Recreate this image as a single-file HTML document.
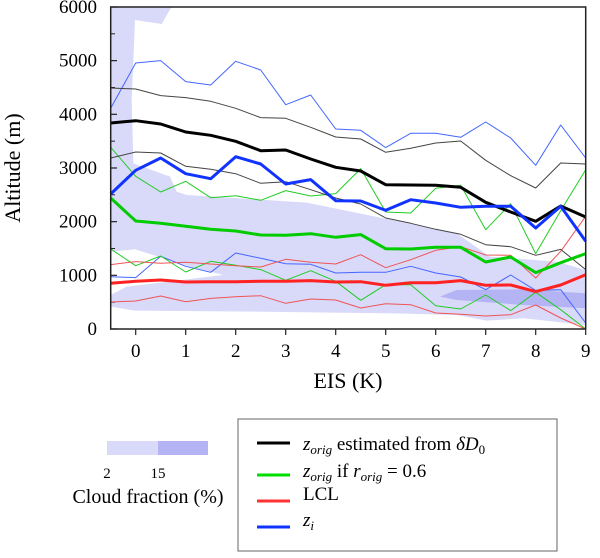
<!DOCTYPE html>
<html><head><meta charset="utf-8"><style>
body{margin:0;background:#fff;}
svg{display:block;}
svg text{font-family:"Liberation Serif","DejaVu Serif",serif;}
</style></head><body>
<svg id="c" width="600" height="558" viewBox="0 0 600 558" font-family="Liberation Serif, serif">
<g id="cloud" transform="translate(90,0) scale(0.3333)">
<polygon fill="#d9d9fa" points="62,20 245,20 215,72 135,60 125,300 130,490 240,530 260,575 290,585 650,608 1100,700 1200,770 1400,785 1487,810 1487,975 1300,955 1190,962 1100,945 900,940 500,935 135,932 62,920 62,885 110,860 400,825 300,800 135,748 62,755"/>
<polygon fill="#b4b4f5" points="1050,890 1100,870 1300,868 1487,880 1487,925 1300,915 1100,900"/>
</g>
<g id="axes"></g>
<g id="series"></g>
<rect x="110.7" y="7" width="475" height="322" fill="none" stroke="#222" stroke-width="1.5"/>
<text x="20" y="168" font-size="22" text-anchor="middle" transform="rotate(-90 20 168)">Altitude (m)</text>
<text x="348" y="388" font-size="22" text-anchor="middle">EIS (K)</text>
<g>
<rect x="107" y="441" width="51" height="14" fill="#d9d9fa"/>
<rect x="158" y="441" width="50" height="14" fill="#b4b4f5"/>
<text x="107" y="478" font-size="15" text-anchor="middle">2</text>
<text x="158" y="478" font-size="15" text-anchor="middle">15</text>
<text x="148" y="503" font-size="20" text-anchor="middle">Cloud fraction (%)</text>
</g>
<g>
<rect x="238" y="419" width="319" height="132" fill="#fff" stroke="#666" stroke-width="1"/>
<g><line x1="257" y1="443" x2="290" y2="443" stroke="#000" stroke-width="3"/><text x="303" y="450" font-size="19"><tspan font-style="italic">z</tspan><tspan font-size="13" font-style="italic" dy="4">orig</tspan><tspan dy="-4"> estimated from </tspan><tspan font-style="italic">δD</tspan><tspan font-size="13" dy="4">0</tspan></text></g>
<g><line x1="257" y1="475" x2="290" y2="475" stroke="#00dd00" stroke-width="3"/><text x="303" y="477" font-size="19"><tspan font-style="italic">z</tspan><tspan font-size="13" font-style="italic" dy="4">orig</tspan><tspan dy="-4"> if </tspan><tspan font-style="italic">r</tspan><tspan font-size="13" font-style="italic" dy="4">orig</tspan><tspan dy="-4"> = 0.6</tspan></text></g>
<g><line x1="257" y1="501" x2="290" y2="501" stroke="#ff3333" stroke-width="3"/><text x="303" y="500" font-size="19">LCL</text></g>
<g><line x1="257" y1="527" x2="290" y2="527" stroke="#1133ff" stroke-width="3"/><text x="303" y="526" font-size="19" font-style="italic">z<tspan font-size="13" dy="4">i</tspan></text></g>
</g>
</svg>
<script>
const eis=[-0.5,0,0.5,1,1.5,2,2.5,3,3.5,4,4.5,5,5.5,6,6.5,7,7.5,8,8.5,9];
const blackMid=[3838,3882,3820,3671,3609,3497,3323,3335,3168,3012,2944,2689,2683,2677,2640,2360,2180,2006,2292,2087];
const blackHi=[4491,4472,4348,4311,4242,4112,3938,3925,3758,3578,3540,3292,3366,3466,3503,3143,2857,2627,3093,3075];
const blackLo=[3186,3298,3280,3031,2975,2894,2714,2745,2596,2441,2329,2068,1969,1857,1764,1571,1534,1373,1484,1106];
const blueMid=[2516,2957,3186,2894,2801,3211,3075,2702,2783,2391,2385,2211,2410,2348,2267,2286,2286,1882,2286,1634];
const blueHi=[4112,4957,5000,4609,4547,4988,4826,4180,4360,3727,3702,3379,3646,3646,3571,3857,3559,3050,3801,3186];
const blueLo=[975,957,1354,1168,1056,1416,1317,1217,1205,1043,1056,1056,1168,1043,969,733,1006,720,733,112];
const greenMid=[2441,2012,1969,1913,1857,1826,1752,1745,1776,1708,1758,1497,1491,1522,1522,1248,1342,1050,1236,1404];
const greenHi=[3385,2845,2553,2752,2447,2484,2398,2578,2478,2522,2988,2180,2161,2621,2677,1851,2335,1404,2205,2969];
const greenLo=[1491,1180,1360,1062,1261,1186,1106,907,1087,888,534,826,826,435,373,634,342,683,360,0];
const redMid=[851,888,913,876,882,882,888,888,901,876,882,814,863,863,901,814,820,696,820,1012];
const redHi=[1199,1255,1224,1242,1211,1180,1155,1298,1242,1211,1385,1143,1292,1466,1534,1379,1373,950,1447,2099];
const redLo=[503,522,615,509,571,602,621,478,559,540,391,472,453,298,273,242,267,447,205,0];
const xTicks=[0,1,2,3,4,5,6,7,8,9];
const yTicks=[0,1000,2000,3000,4000,5000,6000];
const yMinor=[500,1500,2500,3500,4500,5500];
const X=v=>135.7+(v)*50;
const Y=v=>329-v*0.05367;
const NS='http://www.w3.org/2000/svg';
const ax=document.getElementById('axes'), sg=document.getElementById('series');
function mk(t,a,p){const e=document.createElementNS(NS,t);for(const k in a)e.setAttribute(k,a[k]);p.appendChild(e);return e;}
xTicks.forEach(v=>{
 const l=mk('line',{x1:X(v),x2:X(v),y1:329,y2:335,stroke:'#222','stroke-width':1.2},ax);
 
 
 const t=mk('text',{x:X(v),y:357,'font-size':19,'text-anchor':'middle'},ax);t.textContent=v;
 
 
});
yTicks.forEach(v=>{
 const l=mk('line',{x1:110.7,x2:117,y1:Y(v),y2:Y(v),stroke:'#222','stroke-width':1.2},ax);
 
 
 const t=mk('text',{x:97,y:Y(v)+6,'font-size':19,'text-anchor':'end'},ax);t.textContent=v;
 
 
});
yMinor.forEach(v=>{
 const l=mk('line',{x1:110.7,x2:115,y1:Y(v),y2:Y(v),stroke:'#222','stroke-width':1},ax);
 
 
});
const series=[
 [blueHi,'#4466ff',1,'zi-upper-line'],[blueLo,'#4466ff',1,'zi-lower-line'],
 [greenHi,'#22cc22',1,'zorig-r06-upper-line'],[greenLo,'#22cc22',1,'zorig-r06-lower-line'],
 [redHi,'#ee5555',1,'lcl-upper-line'],[redLo,'#ee5555',1,'lcl-lower-line'],
 [blackHi,'#444',1,'zorig-upper-line'],[blackLo,'#444',1,'zorig-lower-line'],
 [greenMid,'#00cc00',3,'zorig-r06-line'],[redMid,'#ff2222',3,'lcl-line'],
 [blackMid,'#000',3,'zorig-line'],[blueMid,'#1133ff',3,'zi-line']];
series.forEach(s=>{
 const pts=s[0].map((v,i)=>X(eis[i]).toFixed(1)+','+Y(v).toFixed(1)).join(' ');
 const p=mk('polyline',{points:pts,fill:'none',stroke:s[1],'stroke-width':s[2],'stroke-linejoin':'round'},sg);
 
 
});
</script>
</body></html>
